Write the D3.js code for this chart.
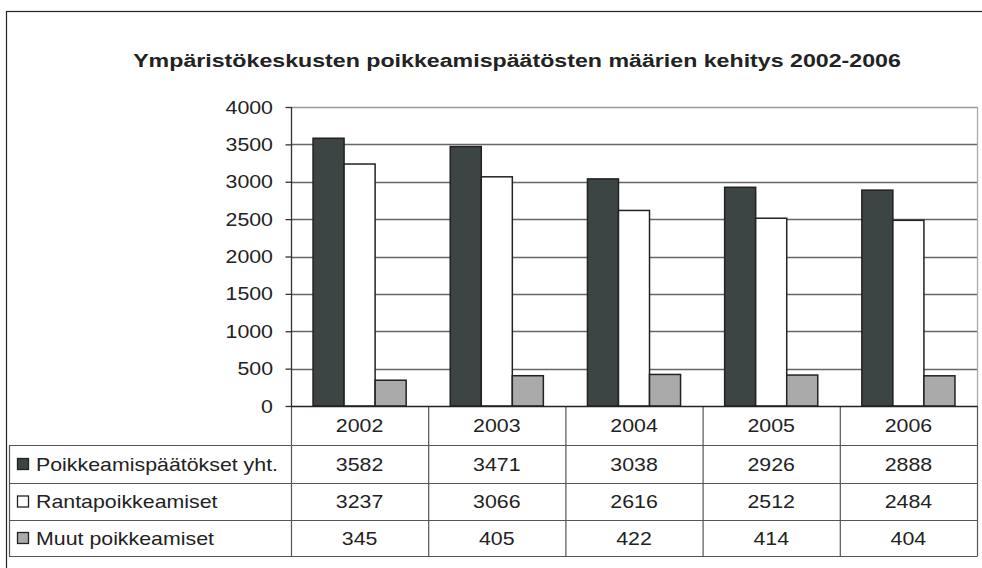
<!DOCTYPE html>
<html>
<head>
<meta charset="utf-8">
<script src="https://cdn.jsdelivr.net/npm/d3@7"></script>
<style>
  body { margin: 0; background: #fff; }
  svg { display: block; font-family: Arial, "Liberation Sans", sans-serif; }
</style>
</head>
<body>
<svg id="chart" width="982" height="568"></svg>
<script>
var years = ["2002", "2003", "2004", "2005", "2006"];
var seriesNames = ["Poikkeamispäätökset yht.", "Rantapoikkeamiset", "Muut poikkeamiset"];
var total = [3582, 3471, 3038, 2926, 2888];
var ranta = [3237, 3066, 2616, 2512, 2484];
var muut = [345, 405, 422, 414, 404];
var yTicks = [0, 500, 1000, 1500, 2000, 2500, 3000, 3500, 4000];
var colors = ["#3d4544", "#ffffff", "#a9aaa9"];

var seriesValues = [total, ranta, muut];

var svg = d3.select("#chart");
var plotLeft = 291, plotRight = 977, plotTop = 107, plotBottom = 406;
var stretch = 1.22;  // the original text is a bit wider than Arial

// text helper: places a horizontally stretched label
function label(parent, x, y, txt, size, anchor, bold) {
    return parent.append("text")
        .attr("transform", "translate(" + x + "," + y + ") scale(" + stretch + ",1)")
        .attr("text-anchor", anchor || "start")
        .attr("font-size", size)
        .attr("font-weight", bold ? "bold" : "normal")
        .attr("fill", "#222")
        .text(txt);
}

// outer frame
svg.append("rect")
    .attr("x", 6.5).attr("y", 11.5)
    .attr("width", 1000).attr("height", 600)
    .attr("fill", "none").attr("stroke", "#222").attr("stroke-width", 1.2);

label(svg, 517, 67, "Ympäristökeskusten poikkeamispäätösten määrien kehitys 2002-2006", 19, "middle", true);

var x = d3.scaleBand().domain(years).range([plotLeft, plotRight]).paddingInner(0).paddingOuter(0);
var xs = d3.scaleBand().domain(d3.range(3)).range([0, x.bandwidth()]).paddingInner(0).paddingOuter(0.71);
var y = d3.scaleLinear().domain([0, 4000]).range([plotBottom, plotTop]);

// gridlines
svg.append("g").selectAll("line")
    .data(yTicks.filter(function (d) { return d > 0; }))
    .enter().append("line")
    .attr("x1", plotLeft).attr("x2", plotRight)
    .attr("y1", function (d) { return Math.round(y(d)) + 0.5; })
    .attr("y2", function (d) { return Math.round(y(d)) + 0.5; })
    .attr("stroke", function (d) { return d === 4000 ? "#999" : "#666"; })
    .attr("stroke-width", 1.3);

// right edge of plot
svg.append("line")
    .attr("x1", plotRight + 0.5).attr("x2", plotRight + 0.5)
    .attr("y1", plotTop).attr("y2", plotBottom)
    .attr("stroke", "#aaa").attr("stroke-width", 1.3);

// bars
var groups = svg.append("g").selectAll("g")
    .data(years)
    .enter().append("g")
    .attr("transform", function (d) { return "translate(" + x(d) + ",0)"; });

groups.selectAll("rect")
    .data(function (d, i) {
        return seriesValues.map(function (s, k) { return { k: k, v: s[i] }; });
    })
    .enter().append("rect")
    .attr("x", function (d) { return xs(d.k); })
    .attr("width", xs.bandwidth())
    .attr("y", function (d) { return y(d.v); })
    .attr("height", function (d) { return y(0) - y(d.v); })
    .attr("fill", function (d) { return colors[d.k]; })
    .attr("stroke", "#222").attr("stroke-width", 1.5);

// y axis
var yAxis = d3.axisLeft(y).tickValues(yTicks).tickSize(6).tickFormat("");
var ya = svg.append("g")
    .attr("transform", "translate(" + (plotLeft + 0.5) + ",0)")
    .call(yAxis);
ya.select(".domain").attr("stroke", "#333").attr("stroke-width", 1.3).attr("d", "M0," + plotTop + "V" + plotBottom);
ya.selectAll(".tick line").attr("stroke", "#333").attr("stroke-width", 1.3);
yTicks.forEach(function (t) {
    label(svg, 273, y(t) + 6.5, d3.format("d")(t), 17.5, "end");
});

// data table
var rowY = [406, 445, 483, 520, 556];
var tableLeft = 9;
var tg = svg.append("g");

years.concat(["end"]).forEach(function (d, i) {
    var xx = i < years.length ? x(d) : plotRight;
    tg.append("line")
        .attr("x1", xx + 0.5).attr("x2", xx + 0.5)
        .attr("y1", plotBottom).attr("y2", rowY[4])
        .attr("stroke", "#555").attr("stroke-width", 1.2);
});
rowY.slice(1).forEach(function (yy) {
    tg.append("line")
        .attr("x1", tableLeft).attr("x2", plotRight + 0.5)
        .attr("y1", yy + 0.5).attr("y2", yy + 0.5)
        .attr("stroke", "#555").attr("stroke-width", 1.2);
});
tg.append("line")
    .attr("x1", tableLeft + 0.5).attr("x2", tableLeft + 0.5)
    .attr("y1", rowY[1]).attr("y2", rowY[4])
    .attr("stroke", "#555").attr("stroke-width", 1.2);
tg.append("line")
    .attr("x1", plotLeft).attr("x2", plotRight + 0.5)
    .attr("y1", plotBottom + 0.5).attr("y2", plotBottom + 0.5)
    .attr("stroke", "#222").attr("stroke-width", 1.6);

years.forEach(function (yr) {
    label(tg, x(yr) + x.bandwidth() / 2, 432, yr, 17.5, "middle");
});

seriesNames.forEach(function (name, k) {
    var cy = (rowY[k + 1] + rowY[k + 2]) / 2;
    tg.append("rect")
        .attr("x", 17.5).attr("y", cy - 5.5)
        .attr("width", 11).attr("height", 11)
        .attr("fill", colors[k]).attr("stroke", "#222").attr("stroke-width", 1.3);
    label(tg, 36, cy + 6.5, name, 17.5, "start");
    seriesValues[k].forEach(function (v, i) {
        label(tg, x(years[i]) + x.bandwidth() / 2, cy + 6.5, v, 17.5, "middle");
    });
});
</script>
</body>
</html>
